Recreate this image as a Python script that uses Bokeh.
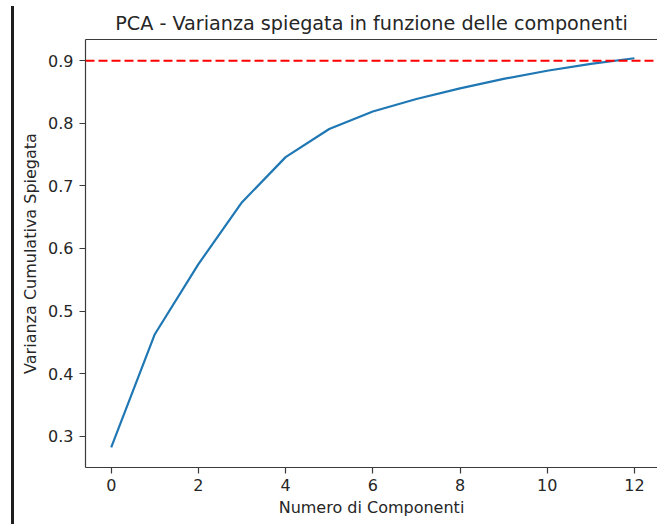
from bokeh.plotting import figure
from bokeh.models import Range1d, LinearAxis, FixedTicker, Span
from bokeh.embed import file_html
from bokeh.resources import INLINE

# data
componenti = list(range(13))
varianza_cumulativa = [0.282, 0.463, 0.575, 0.674, 0.746, 0.791, 0.819, 0.839,
                       0.856, 0.871, 0.884, 0.895, 0.904]
soglia = 0.9
x_ticks = [0, 2, 4, 6, 8, 10, 12]
y_ticks = [0.3, 0.4, 0.5, 0.6, 0.7, 0.8, 0.9]

FONT = "DejaVu Sans"
TXT = "#262626"
SPINE = "#3a3a3a"

p = figure(width=657, height=524, output_backend="svg", toolbar_location=None,
           x_range=Range1d(-0.59, 12.53), y_range=Range1d(0.25, 0.934),
           min_border_left=85, min_border_right=0, min_border_top=39,
           min_border_bottom=57)
p.styles = {"background": "linear-gradient(to bottom, #ffffff 6px, rgba(255,255,255,0) 6px), "
                          "linear-gradient(to right, #ffffff 11px, #1e1e1e 11px, #1e1e1e 14px, #ffffff 14px)"}
p.border_fill_color = None
p.background_fill_color = "white"
p.outline_line_color = None
p.outline_line_alpha = 0
p.grid.visible = False

p.title.text = "PCA - Varianza spiegata in funzione delle componenti"
p.title.align = "center"
p.title.text_font = FONT
p.title.text_font_size = "19.2px"
p.title.text_font_style = "normal"
p.title.text_color = TXT
p.title.standoff = 9

for ax in (p.xaxis[0], p.yaxis[0]):
    ax.axis_line_color = SPINE
    ax.axis_line_width = 1.2
    ax.major_tick_line_color = SPINE
    ax.major_tick_line_width = 1.2
    ax.major_tick_out = 6
    ax.major_tick_in = 0
    ax.minor_tick_line_color = None
    ax.major_label_text_font = FONT
    ax.major_label_text_font_size = "16px"
    ax.major_label_text_color = TXT
    ax.axis_label_text_font = FONT
    ax.axis_label_text_font_size = "16px"
    ax.axis_label_text_font_style = "normal"
    ax.axis_label_text_color = TXT

p.xaxis[0].ticker = FixedTicker(ticks=x_ticks)
p.yaxis[0].ticker = FixedTicker(ticks=y_ticks)
p.xaxis[0].axis_label = "Numero di Componenti"
p.yaxis[0].axis_label = "Varianza Cumulativa Spiegata"
p.xaxis[0].major_label_standoff = 5
p.yaxis[0].major_label_standoff = 6
p.xaxis[0].axis_label_standoff = 4
p.yaxis[0].axis_label_standoff = 5

top = LinearAxis(ticker=FixedTicker(ticks=[]), axis_line_color=SPINE, axis_line_width=1.2,
                 major_tick_line_color=None, minor_tick_line_color=None,
                 major_label_text_color=None)
p.add_layout(top, "above")

p.line(componenti, varianza_cumulativa, line_color="#1f77b4", line_width=2.2)
p.add_layout(Span(location=soglia, dimension="width", line_color="red",
                  line_dash="9 4", line_width=2.2))

open("out.html", "w").write(file_html(p, INLINE))
